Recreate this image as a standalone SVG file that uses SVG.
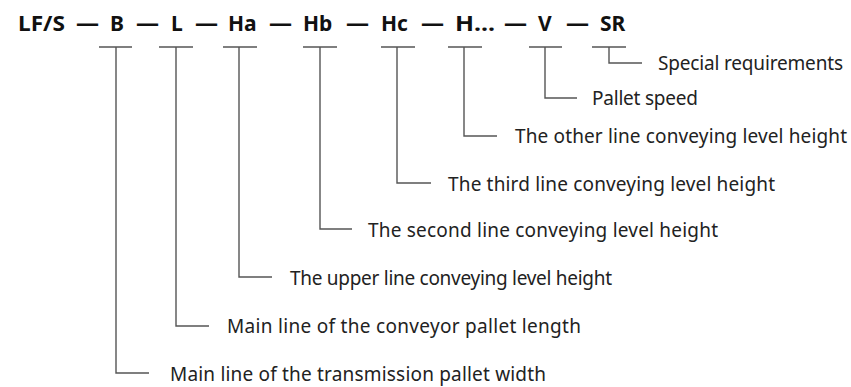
<svg xmlns="http://www.w3.org/2000/svg" width="851" height="387" viewBox="0 0 851 387">
<style>
.t{font-family:"Noto Sans","Open Sans","Liberation Sans",sans-serif;font-weight:bold;font-size:21px;fill:#111}
.l{font-family:"Noto Sans","Open Sans","Liberation Sans",sans-serif;font-size:19px;fill:#222}
.c{fill:none;stroke:#555;stroke-width:1.4}
</style>
<rect width="851" height="387" fill="#fff"/>
<g id="title">
<text class="t" x="18" y="31" textLength="47" lengthAdjust="spacingAndGlyphs">LF/S</text>
<text class="t" x="76" y="31" textLength="23" lengthAdjust="spacingAndGlyphs">—</text>
<text class="t" x="110" y="31">B</text>
<text class="t" x="136" y="31" textLength="23" lengthAdjust="spacingAndGlyphs">—</text>
<text class="t" x="171" y="31">L</text>
<text class="t" x="195" y="31" textLength="23" lengthAdjust="spacingAndGlyphs">—</text>
<text class="t" x="228" y="31">Ha</text>
<text class="t" x="269" y="31" textLength="23" lengthAdjust="spacingAndGlyphs">—</text>
<text class="t" x="303" y="31">Hb</text>
<text class="t" x="346" y="31" textLength="23" lengthAdjust="spacingAndGlyphs">—</text>
<text class="t" x="381" y="31">Hc</text>
<text class="t" x="421" y="31" textLength="23" lengthAdjust="spacingAndGlyphs">—</text>
<text class="t" x="455" y="31" textLength="40" lengthAdjust="spacingAndGlyphs">H...</text>
<text class="t" x="504" y="31" textLength="23" lengthAdjust="spacingAndGlyphs">—</text>
<text class="t" x="538" y="31">V</text>
<text class="t" x="566" y="31" textLength="23" lengthAdjust="spacingAndGlyphs">—</text>
<text class="t" x="600" y="31">SR</text>
</g>
<g id="connectors">
<path class="c" d="M99 47H132M116 47V373H149"/>
<path class="c" d="M159 47H193M176 47V326H209"/>
<path class="c" d="M223 47H257M239 47V277H272"/>
<path class="c" d="M303 47H337M320 47V229H352"/>
<path class="c" d="M381 47H415M397 47V183H431"/>
<path class="c" d="M448 47H482M464 47V136H497"/>
<path class="c" d="M529 47H562M545 47V98H577"/>
<path class="c" d="M592 47H626M609 47V63H642"/>
</g>
<g id="label-sr"><text class="l" x="658" y="70" textLength="185">Special requirements</text></g>
<g id="label-v"><text class="l" x="592" y="105" textLength="106">Pallet speed</text></g>
<g id="label-h"><text class="l" x="515" y="143" textLength="332">The other line conveying level height</text></g>
<g id="label-hc"><text class="l" x="448" y="191" textLength="327">The third line conveying level height</text></g>
<g id="label-hb"><text class="l" x="368" y="237" textLength="350">The second line conveying level height</text></g>
<g id="label-ha"><text class="l" x="290" y="285" textLength="322">The upper line conveying level height</text></g>
<g id="label-l"><text class="l" x="227" y="333" textLength="354">Main line of the conveyor pallet length</text></g>
<g id="label-b"><text class="l" x="170" y="381" textLength="376">Main line of the transmission pallet width</text></g>
</svg>
